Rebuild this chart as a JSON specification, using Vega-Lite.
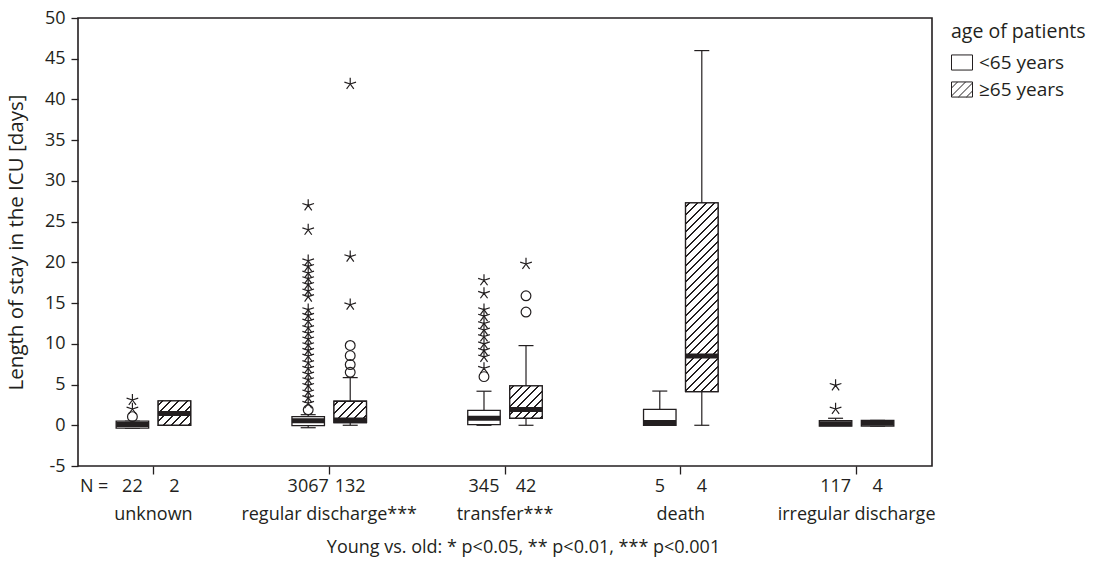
{
  "$schema": "https://vega.github.io/schema/vega-lite/v6.json",
  "width": 854,
  "height": 448,
  "autosize": "none",
  "padding": {"left": 78, "top": 18, "right": 161, "bottom": 95},
  "background": "white",
  "config": {
    "font": "Open Sans",
    "view": {"stroke": "#231f20", "strokeWidth": 1.6},
    "axis": {
      "labelFont": "Open Sans", "labelFontSize": 18, "labelColor": "#231f20",
      "titleFont": "Open Sans", "titleFontSize": 18, "titleFontWeight": "normal", "titleColor": "#231f20",
      "tickColor": "#231f20", "tickWidth": 1.3, "domain": false, "grid": false
    },
    "legend": {
      "titleFont": "Open Sans", "titleFontSize": 19.5, "titleFontWeight": "normal", "titleColor": "#231f20",
      "labelFont": "Open Sans", "labelFontSize": 19, "labelColor": "#231f20"
    }
  },
  "datasets": {
    "boxes": [
      {"group": "unknown", "age": "<65 years", "lo": -0.35, "q1": -0.35, "med": 0.1, "q3": 0.5, "hi": 0.5},
      {"group": "unknown", "age": "≥65 years", "lo": 0, "q1": 0, "med": 1.45, "q3": 3.0, "hi": 3.0},
      {"group": "regular discharge***", "age": "<65 years", "lo": -0.3, "q1": -0.05, "med": 0.55, "q3": 1.05, "hi": 1.3},
      {"group": "regular discharge***", "age": "≥65 years", "lo": 0, "q1": 0.32, "med": 0.65, "q3": 2.95, "hi": 5.85},
      {"group": "transfer***", "age": "<65 years", "lo": 0, "q1": 0.07, "med": 0.87, "q3": 1.84, "hi": 4.18},
      {"group": "transfer***", "age": "≥65 years", "lo": 0, "q1": 0.86, "med": 1.94, "q3": 4.83, "hi": 9.78},
      {"group": "death", "age": "<65 years", "lo": 0, "q1": 0, "med": 0.35, "q3": 1.96, "hi": 4.2},
      {"group": "death", "age": "≥65 years", "lo": 0, "q1": 4.13, "med": 8.5, "q3": 27.3, "hi": 46.0},
      {"group": "irregular discharge", "age": "<65 years", "lo": 0, "q1": -0.1, "med": 0.2, "q3": 0.57, "hi": 0.86},
      {"group": "irregular discharge", "age": "≥65 years", "lo": -0.1, "q1": -0.1, "med": 0.25, "q3": 0.6, "hi": 0.6}
    ],
    "outliers": [
      {"group": "unknown", "age": "<65 years", "v": 1.06, "type": "o"},
      {"group": "unknown", "age": "<65 years", "v": 2.0, "type": "*"},
      {"group": "unknown", "age": "<65 years", "v": 3.1, "type": "*"},
      {"group": "regular discharge***", "age": "<65 years", "v": 1.9, "type": "o"},
      {"group": "regular discharge***", "age": "<65 years", "v": 2.7, "type": "*"},
      {"group": "regular discharge***", "age": "<65 years", "v": 3.4, "type": "*"},
      {"group": "regular discharge***", "age": "<65 years", "v": 4.1, "type": "*"},
      {"group": "regular discharge***", "age": "<65 years", "v": 4.9, "type": "*"},
      {"group": "regular discharge***", "age": "<65 years", "v": 5.6, "type": "*"},
      {"group": "regular discharge***", "age": "<65 years", "v": 6.3, "type": "*"},
      {"group": "regular discharge***", "age": "<65 years", "v": 7.0, "type": "*"},
      {"group": "regular discharge***", "age": "<65 years", "v": 7.7, "type": "*"},
      {"group": "regular discharge***", "age": "<65 years", "v": 8.5, "type": "*"},
      {"group": "regular discharge***", "age": "<65 years", "v": 9.2, "type": "*"},
      {"group": "regular discharge***", "age": "<65 years", "v": 9.9, "type": "*"},
      {"group": "regular discharge***", "age": "<65 years", "v": 10.6, "type": "*"},
      {"group": "regular discharge***", "age": "<65 years", "v": 11.3, "type": "*"},
      {"group": "regular discharge***", "age": "<65 years", "v": 12.0, "type": "*"},
      {"group": "regular discharge***", "age": "<65 years", "v": 12.8, "type": "*"},
      {"group": "regular discharge***", "age": "<65 years", "v": 13.5, "type": "*"},
      {"group": "regular discharge***", "age": "<65 years", "v": 14.2, "type": "*"},
      {"group": "regular discharge***", "age": "<65 years", "v": 15.8, "type": "*"},
      {"group": "regular discharge***", "age": "<65 years", "v": 16.5, "type": "*"},
      {"group": "regular discharge***", "age": "<65 years", "v": 17.3, "type": "*"},
      {"group": "regular discharge***", "age": "<65 years", "v": 18.0, "type": "*"},
      {"group": "regular discharge***", "age": "<65 years", "v": 18.7, "type": "*"},
      {"group": "regular discharge***", "age": "<65 years", "v": 19.5, "type": "*"},
      {"group": "regular discharge***", "age": "<65 years", "v": 20.2, "type": "*"},
      {"group": "regular discharge***", "age": "<65 years", "v": 24.0, "type": "*"},
      {"group": "regular discharge***", "age": "<65 years", "v": 27.0, "type": "*"},
      {"group": "regular discharge***", "age": "≥65 years", "v": 6.5, "type": "o"},
      {"group": "regular discharge***", "age": "≥65 years", "v": 7.45, "type": "o"},
      {"group": "regular discharge***", "age": "≥65 years", "v": 8.55, "type": "o"},
      {"group": "regular discharge***", "age": "≥65 years", "v": 9.8, "type": "o"},
      {"group": "regular discharge***", "age": "≥65 years", "v": 14.8, "type": "*"},
      {"group": "regular discharge***", "age": "≥65 years", "v": 20.7, "type": "*"},
      {"group": "regular discharge***", "age": "≥65 years", "v": 41.9, "type": "*"},
      {"group": "transfer***", "age": "<65 years", "v": 5.97, "type": "o"},
      {"group": "transfer***", "age": "<65 years", "v": 7.0, "type": "*"},
      {"group": "transfer***", "age": "<65 years", "v": 8.4, "type": "*"},
      {"group": "transfer***", "age": "<65 years", "v": 9.2, "type": "*"},
      {"group": "transfer***", "age": "<65 years", "v": 10.0, "type": "*"},
      {"group": "transfer***", "age": "<65 years", "v": 10.9, "type": "*"},
      {"group": "transfer***", "age": "<65 years", "v": 11.7, "type": "*"},
      {"group": "transfer***", "age": "<65 years", "v": 12.5, "type": "*"},
      {"group": "transfer***", "age": "<65 years", "v": 13.4, "type": "*"},
      {"group": "transfer***", "age": "<65 years", "v": 14.2, "type": "*"},
      {"group": "transfer***", "age": "<65 years", "v": 16.2, "type": "*"},
      {"group": "transfer***", "age": "<65 years", "v": 17.8, "type": "*"},
      {"group": "transfer***", "age": "≥65 years", "v": 13.9, "type": "o"},
      {"group": "transfer***", "age": "≥65 years", "v": 15.9, "type": "o"},
      {"group": "transfer***", "age": "≥65 years", "v": 19.8, "type": "*"},
      {"group": "irregular discharge", "age": "<65 years", "v": 2.0, "type": "*"},
      {"group": "irregular discharge", "age": "<65 years", "v": 4.9, "type": "*"}
    ],
    "counts": [
      {"group": "unknown", "age": "<65 years", "n": "22"},
      {"group": "unknown", "age": "≥65 years", "n": "2"},
      {"group": "regular discharge***", "age": "<65 years", "n": "3067"},
      {"group": "regular discharge***", "age": "≥65 years", "n": "132"},
      {"group": "transfer***", "age": "<65 years", "n": "345"},
      {"group": "transfer***", "age": "≥65 years", "n": "42"},
      {"group": "death", "age": "<65 years", "n": "5"},
      {"group": "death", "age": "≥65 years", "n": "4"},
      {"group": "irregular discharge", "age": "<65 years", "n": "117"},
      {"group": "irregular discharge", "age": "≥65 years", "n": "4"}
    ]
  },
  "encoding": {
    "x": {
      "field": "group", "type": "nominal",
      "sort": ["unknown", "regular discharge***", "transfer***", "death", "irregular discharge"],
      "scale": {"paddingInner": 0.522, "paddingOuter": 0.19},
      "axis": {
        "title": "Young vs. old: * p<0.05, ** p<0.01, *** p<0.001",
        "labelAngle": 0, "bandPosition": 0.5, "tickSize": 8, "labelPadding": 31,
        "labelFontSize": 18, "titleFontSize": 18, "titleFontWeight": "normal",
        "titlePadding": 15, "titleX": 445, "labelLimit": 300
      }
    },
    "xOffset": {
      "field": "age", "type": "nominal",
      "sort": ["<65 years", "≥65 years"],
      "scale": {"paddingInner": 0, "paddingOuter": 0}
    }
  },
  "layer": [
    {
      "data": {"name": "boxes"},
      "mark": {"type": "rule", "color": "#231f20", "strokeWidth": 1.2},
      "encoding": {
        "y": {"field": "lo", "type": "quantitative", "title": "Length of stay in the ICU [days]",
          "scale": {"domain": [-5, 50], "nice": false, "zero": false},
          "axis": {"values": [-5, 0, 5, 10, 15, 20, 25, 30, 35, 40, 45, 50], "tickSize": 7, "labelPadding": 6,
            "labelFontSize": 18, "titleFontSize": 20.5, "titleFontWeight": "normal", "titlePadding": 18, "labelExpr": "'' + datum.value"}},
        "y2": {"field": "hi"}
      }
    },
    {
      "data": {"name": "boxes"},
      "mark": {"type": "tick", "color": "#231f20", "size": 15, "thickness": 1.2, "opacity": 1},
      "encoding": {
        "y": {"field": "lo", "type": "quantitative", "title": "Length of stay in the ICU [days]"}
      }
    },
    {
      "data": {"name": "boxes"},
      "mark": {"type": "tick", "color": "#231f20", "size": 15, "thickness": 1.2, "opacity": 1},
      "encoding": {
        "y": {"field": "hi", "type": "quantitative", "title": "Length of stay in the ICU [days]"}
      }
    },
    {
      "data": {"name": "boxes"},
      "mark": {"type": "bar", "width": 32.5, "fill": "#ffffff", "stroke": "#231f20", "strokeWidth": 1.3, "opacity": 1},
      "encoding": {
        "y": {"field": "q1", "type": "quantitative", "title": "Length of stay in the ICU [days]"},
        "y2": {"field": "q3"}
      }
    },
    {
      "data": {"name": "boxes"},
      "transform": [{"filter": "datum.age === '≥65 years' && datum.group !== 'irregular discharge'"}],
      "mark": {"type": "bar", "width": 32.5, "stroke": "#231f20", "strokeWidth": 1.3, "opacity": 1},
      "encoding": {
        "y": {"field": "q1", "type": "quantitative", "title": "Length of stay in the ICU [days]"},
        "y2": {"field": "q3"},
        "fill": {
          "condition": [
            {"test": "datum.group === 'death'", "value": {"gradient": "linear", "x1": 0, "y1": 0, "x2": 0.2957, "y2": 1.717, "stops": [
              {"offset": 0, "color": "#ffffff"},
              {"offset": 0.0095, "color": "#ffffff"}, {"offset": 0.0095, "color": "#231f20"}, {"offset": 0.0155, "color": "#231f20"}, {"offset": 0.0155, "color": "#ffffff"},
              {"offset": 0.0345, "color": "#ffffff"}, {"offset": 0.0345, "color": "#231f20"}, {"offset": 0.0405, "color": "#231f20"}, {"offset": 0.0405, "color": "#ffffff"},
              {"offset": 0.0595, "color": "#ffffff"}, {"offset": 0.0595, "color": "#231f20"}, {"offset": 0.0655, "color": "#231f20"}, {"offset": 0.0655, "color": "#ffffff"},
              {"offset": 0.0845, "color": "#ffffff"}, {"offset": 0.0845, "color": "#231f20"}, {"offset": 0.0905, "color": "#231f20"}, {"offset": 0.0905, "color": "#ffffff"},
              {"offset": 0.1095, "color": "#ffffff"}, {"offset": 0.1095, "color": "#231f20"}, {"offset": 0.1155, "color": "#231f20"}, {"offset": 0.1155, "color": "#ffffff"},
              {"offset": 0.1345, "color": "#ffffff"}, {"offset": 0.1345, "color": "#231f20"}, {"offset": 0.1405, "color": "#231f20"}, {"offset": 0.1405, "color": "#ffffff"},
              {"offset": 0.1595, "color": "#ffffff"}, {"offset": 0.1595, "color": "#231f20"}, {"offset": 0.1655, "color": "#231f20"}, {"offset": 0.1655, "color": "#ffffff"},
              {"offset": 0.1845, "color": "#ffffff"}, {"offset": 0.1845, "color": "#231f20"}, {"offset": 0.1905, "color": "#231f20"}, {"offset": 0.1905, "color": "#ffffff"},
              {"offset": 0.2095, "color": "#ffffff"}, {"offset": 0.2095, "color": "#231f20"}, {"offset": 0.2155, "color": "#231f20"}, {"offset": 0.2155, "color": "#ffffff"},
              {"offset": 0.2345, "color": "#ffffff"}, {"offset": 0.2345, "color": "#231f20"}, {"offset": 0.2405, "color": "#231f20"}, {"offset": 0.2405, "color": "#ffffff"},
              {"offset": 0.2595, "color": "#ffffff"}, {"offset": 0.2595, "color": "#231f20"}, {"offset": 0.2655, "color": "#231f20"}, {"offset": 0.2655, "color": "#ffffff"},
              {"offset": 0.2845, "color": "#ffffff"}, {"offset": 0.2845, "color": "#231f20"}, {"offset": 0.2905, "color": "#231f20"}, {"offset": 0.2905, "color": "#ffffff"},
              {"offset": 0.3095, "color": "#ffffff"}, {"offset": 0.3095, "color": "#231f20"}, {"offset": 0.3155, "color": "#231f20"}, {"offset": 0.3155, "color": "#ffffff"},
              {"offset": 0.3345, "color": "#ffffff"}, {"offset": 0.3345, "color": "#231f20"}, {"offset": 0.3405, "color": "#231f20"}, {"offset": 0.3405, "color": "#ffffff"},
              {"offset": 0.3595, "color": "#ffffff"}, {"offset": 0.3595, "color": "#231f20"}, {"offset": 0.3655, "color": "#231f20"}, {"offset": 0.3655, "color": "#ffffff"},
              {"offset": 0.3845, "color": "#ffffff"}, {"offset": 0.3845, "color": "#231f20"}, {"offset": 0.3905, "color": "#231f20"}, {"offset": 0.3905, "color": "#ffffff"},
              {"offset": 0.4095, "color": "#ffffff"}, {"offset": 0.4095, "color": "#231f20"}, {"offset": 0.4155, "color": "#231f20"}, {"offset": 0.4155, "color": "#ffffff"},
              {"offset": 0.4345, "color": "#ffffff"}, {"offset": 0.4345, "color": "#231f20"}, {"offset": 0.4405, "color": "#231f20"}, {"offset": 0.4405, "color": "#ffffff"},
              {"offset": 0.4595, "color": "#ffffff"}, {"offset": 0.4595, "color": "#231f20"}, {"offset": 0.4655, "color": "#231f20"}, {"offset": 0.4655, "color": "#ffffff"},
              {"offset": 0.4845, "color": "#ffffff"}, {"offset": 0.4845, "color": "#231f20"}, {"offset": 0.4905, "color": "#231f20"}, {"offset": 0.4905, "color": "#ffffff"},
              {"offset": 0.5095, "color": "#ffffff"}, {"offset": 0.5095, "color": "#231f20"}, {"offset": 0.5155, "color": "#231f20"}, {"offset": 0.5155, "color": "#ffffff"},
              {"offset": 0.5345, "color": "#ffffff"}, {"offset": 0.5345, "color": "#231f20"}, {"offset": 0.5405, "color": "#231f20"}, {"offset": 0.5405, "color": "#ffffff"},
              {"offset": 0.5595, "color": "#ffffff"}, {"offset": 0.5595, "color": "#231f20"}, {"offset": 0.5655, "color": "#231f20"}, {"offset": 0.5655, "color": "#ffffff"},
              {"offset": 0.5845, "color": "#ffffff"}, {"offset": 0.5845, "color": "#231f20"}, {"offset": 0.5905, "color": "#231f20"}, {"offset": 0.5905, "color": "#ffffff"},
              {"offset": 0.6095, "color": "#ffffff"}, {"offset": 0.6095, "color": "#231f20"}, {"offset": 0.6155, "color": "#231f20"}, {"offset": 0.6155, "color": "#ffffff"},
              {"offset": 0.6345, "color": "#ffffff"}, {"offset": 0.6345, "color": "#231f20"}, {"offset": 0.6405, "color": "#231f20"}, {"offset": 0.6405, "color": "#ffffff"},
              {"offset": 0.6595, "color": "#ffffff"}, {"offset": 0.6595, "color": "#231f20"}, {"offset": 0.6655, "color": "#231f20"}, {"offset": 0.6655, "color": "#ffffff"},
              {"offset": 1, "color": "#ffffff"}
            ]}},
            {"test": "datum.group === 'transfer***'", "value": {"gradient": "linear", "x1": 0, "y1": 0, "x2": 5.164, "y2": 5.132, "stops": [
              {"offset": 0, "color": "#ffffff"},
              {"offset": 0.0095, "color": "#ffffff"}, {"offset": 0.0095, "color": "#231f20"}, {"offset": 0.0155, "color": "#231f20"}, {"offset": 0.0155, "color": "#ffffff"},
              {"offset": 0.0345, "color": "#ffffff"}, {"offset": 0.0345, "color": "#231f20"}, {"offset": 0.0405, "color": "#231f20"}, {"offset": 0.0405, "color": "#ffffff"},
              {"offset": 0.0595, "color": "#ffffff"}, {"offset": 0.0595, "color": "#231f20"}, {"offset": 0.0655, "color": "#231f20"}, {"offset": 0.0655, "color": "#ffffff"},
              {"offset": 0.0845, "color": "#ffffff"}, {"offset": 0.0845, "color": "#231f20"}, {"offset": 0.0905, "color": "#231f20"}, {"offset": 0.0905, "color": "#ffffff"},
              {"offset": 0.1095, "color": "#ffffff"}, {"offset": 0.1095, "color": "#231f20"}, {"offset": 0.1155, "color": "#231f20"}, {"offset": 0.1155, "color": "#ffffff"},
              {"offset": 0.1345, "color": "#ffffff"}, {"offset": 0.1345, "color": "#231f20"}, {"offset": 0.1405, "color": "#231f20"}, {"offset": 0.1405, "color": "#ffffff"},
              {"offset": 0.1595, "color": "#ffffff"}, {"offset": 0.1595, "color": "#231f20"}, {"offset": 0.1655, "color": "#231f20"}, {"offset": 0.1655, "color": "#ffffff"},
              {"offset": 0.1845, "color": "#ffffff"}, {"offset": 0.1845, "color": "#231f20"}, {"offset": 0.1905, "color": "#231f20"}, {"offset": 0.1905, "color": "#ffffff"},
              {"offset": 1, "color": "#ffffff"}
            ]}},
            {"test": "datum.group === 'regular discharge***'", "value": {"gradient": "linear", "x1": 0, "y1": 0, "x2": 7.16, "y2": 4.715, "stops": [
              {"offset": 0, "color": "#ffffff"},
              {"offset": 0.0095, "color": "#ffffff"}, {"offset": 0.0095, "color": "#231f20"}, {"offset": 0.0155, "color": "#231f20"}, {"offset": 0.0155, "color": "#ffffff"},
              {"offset": 0.0345, "color": "#ffffff"}, {"offset": 0.0345, "color": "#231f20"}, {"offset": 0.0405, "color": "#231f20"}, {"offset": 0.0405, "color": "#ffffff"},
              {"offset": 0.0595, "color": "#ffffff"}, {"offset": 0.0595, "color": "#231f20"}, {"offset": 0.0655, "color": "#231f20"}, {"offset": 0.0655, "color": "#ffffff"},
              {"offset": 0.0845, "color": "#ffffff"}, {"offset": 0.0845, "color": "#231f20"}, {"offset": 0.0905, "color": "#231f20"}, {"offset": 0.0905, "color": "#ffffff"},
              {"offset": 0.1095, "color": "#ffffff"}, {"offset": 0.1095, "color": "#231f20"}, {"offset": 0.1155, "color": "#231f20"}, {"offset": 0.1155, "color": "#ffffff"},
              {"offset": 0.1345, "color": "#ffffff"}, {"offset": 0.1345, "color": "#231f20"}, {"offset": 0.1405, "color": "#231f20"}, {"offset": 0.1405, "color": "#ffffff"},
              {"offset": 0.1595, "color": "#ffffff"}, {"offset": 0.1595, "color": "#231f20"}, {"offset": 0.1655, "color": "#231f20"}, {"offset": 0.1655, "color": "#ffffff"},
              {"offset": 1, "color": "#ffffff"}
            ]}}
          ],
          "value": {"gradient": "linear", "x1": 0, "y1": 0, "x2": 6.565, "y2": 4.929, "stops": [
            {"offset": 0, "color": "#ffffff"},
            {"offset": 0.0095, "color": "#ffffff"}, {"offset": 0.0095, "color": "#231f20"}, {"offset": 0.0155, "color": "#231f20"}, {"offset": 0.0155, "color": "#ffffff"},
            {"offset": 0.0345, "color": "#ffffff"}, {"offset": 0.0345, "color": "#231f20"}, {"offset": 0.0405, "color": "#231f20"}, {"offset": 0.0405, "color": "#ffffff"},
            {"offset": 0.0595, "color": "#ffffff"}, {"offset": 0.0595, "color": "#231f20"}, {"offset": 0.0655, "color": "#231f20"}, {"offset": 0.0655, "color": "#ffffff"},
            {"offset": 0.0845, "color": "#ffffff"}, {"offset": 0.0845, "color": "#231f20"}, {"offset": 0.0905, "color": "#231f20"}, {"offset": 0.0905, "color": "#ffffff"},
            {"offset": 0.1095, "color": "#ffffff"}, {"offset": 0.1095, "color": "#231f20"}, {"offset": 0.1155, "color": "#231f20"}, {"offset": 0.1155, "color": "#ffffff"},
            {"offset": 0.1345, "color": "#ffffff"}, {"offset": 0.1345, "color": "#231f20"}, {"offset": 0.1405, "color": "#231f20"}, {"offset": 0.1405, "color": "#ffffff"},
            {"offset": 0.1595, "color": "#ffffff"}, {"offset": 0.1595, "color": "#231f20"}, {"offset": 0.1655, "color": "#231f20"}, {"offset": 0.1655, "color": "#ffffff"},
            {"offset": 1, "color": "#ffffff"}
          ]}
        }
      }
    },
    {
      "data": {"name": "boxes"},
      "mark": {"type": "tick", "color": "#231f20", "size": 32.5, "thickness": 5, "opacity": 1},
      "encoding": {
        "y": {"field": "med", "type": "quantitative", "title": "Length of stay in the ICU [days]"}
      }
    },
    {
      "data": {"name": "boxes"},
      "mark": {"type": "point", "filled": false, "stroke": "#231f20", "strokeWidth": 1, "opacity": 0},
      "encoding": {
        "y": {"field": "q1", "type": "quantitative", "title": "Length of stay in the ICU [days]"},
        "shape": {
          "field": "age", "type": "nominal",
          "scale": {"domain": ["<65 years", "≥65 years"], "range": [
            "M-1,-0.72H1V0.72H-1Z",
            "M-1,-0.72H1V0.72H-1Z M-1,-0.14L-0.42,-0.72 M-1,0.62L0.34,-0.72 M-0.34,0.72L1,-0.62 M0.42,0.72L1,0.14"
          ]},
          "legend": {
            "title": "age of patients",
            "titleFontSize": 19.5, "titleFontWeight": "normal", "labelFontSize": 19,
            "offset": 14,
            "padding": 5,
            "symbolSize": 441,
            "symbolOpacity": 1,
            "symbolStrokeColor": "#231f20",
            "symbolStrokeWidth": 1,
            "rowPadding": 6,
            "titlePadding": 9,
            "labelOffset": 6
          }
        }
      }
    },
    {
      "data": {"name": "outliers"},
      "transform": [{"filter": "datum.type === 'o'"}],
      "mark": {"type": "point", "shape": "circle", "size": 95, "filled": false, "stroke": "#231f20", "strokeWidth": 1.2, "opacity": 1},
      "encoding": {
        "y": {"field": "v", "type": "quantitative", "title": "Length of stay in the ICU [days]"}
      }
    },
    {
      "data": {"name": "outliers"},
      "transform": [{"filter": "datum.type === '*'"}],
      "mark": {"type": "point", "shape": "M0,0L0,-1M0,0L0.951,-0.309M0,0L0.588,0.809M0,0L-0.588,0.809M0,0L-0.951,-0.309", "size": 150, "filled": false, "stroke": "#231f20", "strokeWidth": 1.2, "opacity": 1},
      "encoding": {
        "y": {"field": "v", "type": "quantitative", "title": "Length of stay in the ICU [days]"}
      }
    },
    {
      "data": {"name": "counts"},
      "mark": {"type": "text", "font": "Open Sans", "fontSize": 18, "color": "#231f20", "baseline": "middle", "align": "center"},
      "encoding": {
        "y": {"datum": -7.6, "type": "quantitative", "title": "Length of stay in the ICU [days]"},
        "text": {"field": "n"}
      }
    },
    {
      "data": {"values": [{"group": "unknown", "age": "<65 years", "label": "N ="}]},
      "mark": {"type": "text", "font": "Open Sans", "fontSize": 18, "color": "#231f20", "baseline": "middle", "align": "right", "dx": -24},
      "encoding": {
        "y": {"datum": -7.6, "type": "quantitative", "title": "Length of stay in the ICU [days]"},
        "text": {"field": "label"}
      }
    }
  ]
}
